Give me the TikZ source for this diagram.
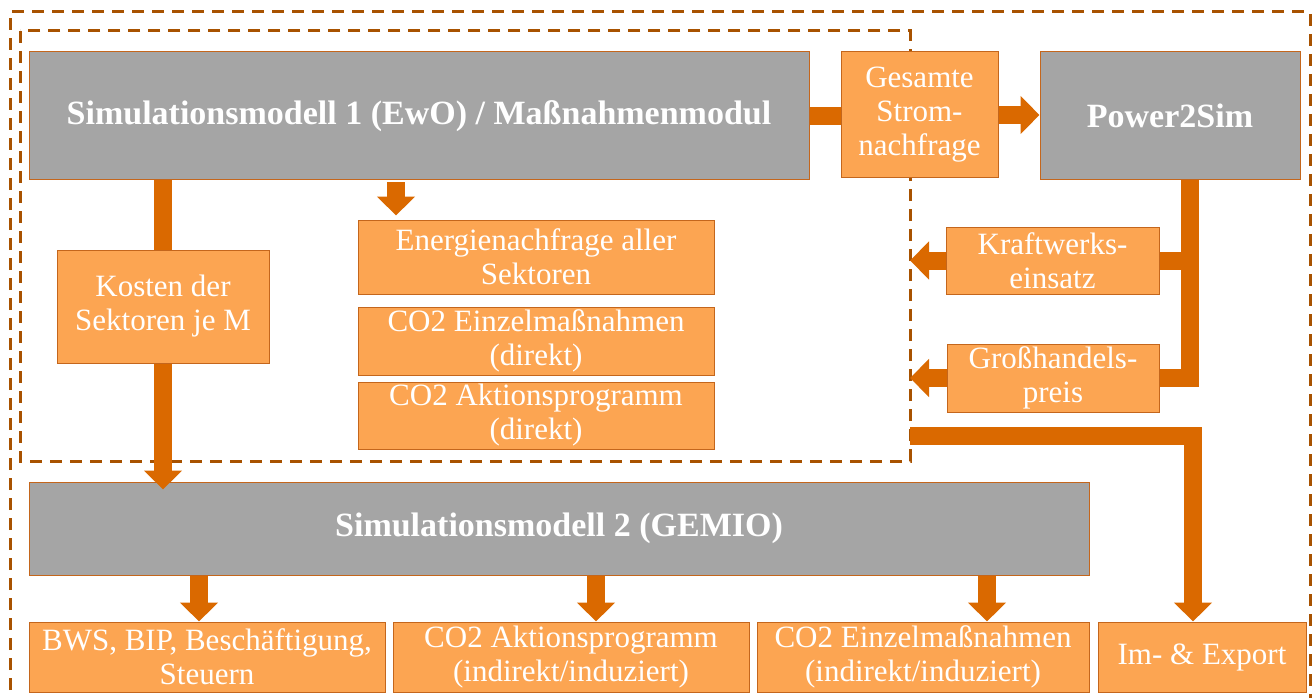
\documentclass[tikz,border=0pt]{standalone}
\usepackage{fontspec}
\setmainfont{Liberation Serif}
\usetikzlibrary{arrows.meta,calc}
\definecolor{gfill}{HTML}{A5A5A5}
\definecolor{ofill}{HTML}{FCA552}
\definecolor{boxline}{HTML}{C4661C}
\definecolor{arrowc}{HTML}{DA6900}
\definecolor{dashc}{HTML}{A85200}
\tikzset{
  gbox/.style={draw=boxline, line width=1pt, fill=gfill, text=white, inner sep=0pt, align=center,
    font=\bfseries\fontsize{34}{40}\selectfont},
  obox/.style={draw=boxline, line width=1pt, fill=ofill, text=white, inner sep=0pt, align=center,
    font=\fontsize{31}{34}\selectfont},
  bar/.style={draw=arrowc, line width=18pt},
  barrow/.style={bar, -{Triangle[width=37pt,length=19pt]}},
  dashbox/.style={draw=dashc, line width=3pt, dash pattern=on 12pt off 8pt}
}
\begin{document}
\begin{tikzpicture}[x=1pt,y=-1pt]
\useasboundingbox (0,0) rectangle (1315,698);
\clip (0,0) rectangle (1315,698);
% dashed frames
\draw[dashbox] (10,710) -- (10,12) -- (1310,12) -- (1310,710);
\draw[dashbox] (20,31) rectangle (910,461);
% boxes
\node[gbox, minimum width=780pt, minimum height=128pt] (sim1) at (419,116) {Simulationsmodell 1 (EwO) / Maßnahmenmodul};
\node[obox, minimum width=157pt, minimum height=126pt] (ges) at (919.5,115) {Gesamte\\Strom-\\nachfrage};
\node[gbox, minimum width=260pt, minimum height=128pt] (p2s) at (1170,116) {Power2Sim};
\node[obox, minimum width=212pt, minimum height=113pt] (kosten) at (163,306.5) {Kosten der\\Sektoren je M};
\node[obox, minimum width=356pt, minimum height=74pt] (ener) at (536,257) {Energienachfrage aller\\Sektoren};
\node[obox, minimum width=356pt, minimum height=68pt] (co2e) at (536,341) {CO2 Einzelmaßnahmen\\(direkt)};
\node[obox, minimum width=356pt, minimum height=67pt] (co2a) at (536,415.5) {CO2 Aktionsprogramm\\(direkt)};
\node[obox, minimum width=213pt, minimum height=67pt] (kw) at (1052.5,260.5) {Kraftwerks-\\einsatz};
\node[obox, minimum width=212pt, minimum height=68pt] (gh) at (1053,378) {Großhandels-\\preis};
\node[gbox, minimum width=1060pt, minimum height=93pt] (sim2) at (559,528.5) {Simulationsmodell 2 (GEMIO)};
\node[obox, minimum width=356pt, minimum height=70pt] (bws) at (207,657) {BWS, BIP, Beschäftigung,\\Steuern};
\node[obox, minimum width=356pt, minimum height=70pt] (co2ai) at (571,657) {CO2 Aktionsprogramm\\(indirekt/induziert)};
\node[obox, minimum width=332pt, minimum height=70pt] (co2ei) at (923,657) {CO2 Einzelmaßnahmen\\(indirekt/induziert)};
\node[obox, minimum width=208pt, minimum height=70pt] (imex) at (1202,657) {Im- \& Export};
% helper coordinates
\coordinate (dl) at (910,0);
\coordinate (pdrop) at (1190,0);
\coordinate (ls) at (910,436);
\coordinate (lc) at (1193,436);
\coordinate (ea) at (396,0);
\coordinate (b1) at (199,0);
\coordinate (b2) at (596,0);
\coordinate (b3) at (987,0);
% connectors
\draw[bar] (sim1.east) -- (sim1.east -| ges.west);
\draw[barrow] (ges.east) -- (ges.east -| p2s.west);
\draw[bar, line join=miter] (p2s.south -| pdrop) |- (gh.east);
\draw[bar] (kw.east) -- (kw.east -| pdrop);
\draw[barrow] (kw.west) -- (kw.west -| dl);
\draw[barrow] (gh.west) -- (gh.west -| dl);
\draw[barrow, line join=miter] (ls) -- (lc) -- (lc |- imex.north);
\draw[bar] (kosten.north |- sim1.south) -- (kosten.north);
\draw[barrow] (kosten.south) -- ([yshift=-8pt]kosten.south |- sim2.north);
\draw[barrow] ([yshift=-2pt]sim1.south -| ea) -- ([yshift=4pt]ener.north -| ea);
\draw[barrow] (sim2.south -| b1) -- (bws.north -| b1);
\draw[barrow] (sim2.south -| b2) -- (co2ai.north -| b2);
\draw[barrow] (sim2.south -| b3) -- (co2ei.north -| b3);
\end{tikzpicture}
\end{document}
